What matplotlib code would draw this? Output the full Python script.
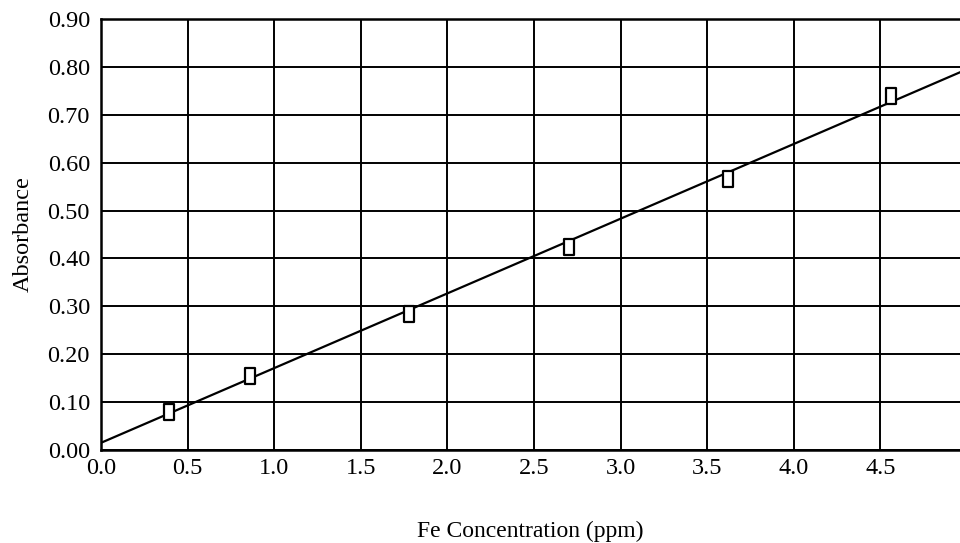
import numpy as np
import matplotlib.pyplot as plt
from matplotlib.path import Path

plt.rcParams['font.family'] = ['Liberation Serif', 'DejaVu Serif']

# Fe standards: concentration (ppm) vs absorbance
conc = [0.39, 0.86, 1.78, 2.70, 3.62, 4.56]
absorb = [0.080, 0.155, 0.285, 0.424, 0.565, 0.740]

# least squares line as drawn
slope = 0.1560
intercept = 0.015

xticks = [0.0, 0.5, 1.0, 1.5, 2.0, 2.5, 3.0, 3.5, 4.0, 4.5]
yticks = [0.0, 0.1, 0.2, 0.3, 0.4, 0.5, 0.6, 0.7, 0.8, 0.9]

fig = plt.figure(figsize=(9.6, 5.43), dpi=100)
ax = fig.add_axes([101/960, 93/543, 859/960, 431/543])

xmax = 4.96
xl = np.array([0.0, xmax])
ax.plot(xl, intercept + slope*xl, color='black', lw=1.6, zorder=3)

rect = Path([(-0.6, -1), (0.6, -1), (0.6, 1), (-0.6, 1), (-0.6, -1)],
            [Path.MOVETO, Path.LINETO, Path.LINETO, Path.LINETO, Path.CLOSEPOLY])
ax.plot(conc, absorb, linestyle='none', marker=rect, markersize=11,
        mfc='white', mec='black', mew=1.6, zorder=4)

ax.set_xlim(0, xmax)
ax.set_ylim(0, 0.9)
ax.set_xticks(xticks)
ax.set_xticklabels(["%.1f" % v for v in xticks])
ax.set_yticks(yticks)
ax.set_yticklabels(["%.2f" % v for v in yticks])
ax.tick_params(length=0, labelsize=17.5, colors='black')
ax.tick_params(axis='x', pad=6)
ax.tick_params(axis='y', pad=8)
ax.grid(True, color='black', lw=1.4)
ax.set_axisbelow(True)

for s in ['left', 'top', 'bottom']:
    ax.spines[s].set_linewidth(1.8)
ax.spines['right'].set_visible(False)

ax.set_xlabel("Fe Concentration (ppm)", fontsize=17, labelpad=30)
ax.set_ylabel("Absorbance", fontsize=17.5, labelpad=10)

fig.savefig("out.png", dpi=100)
